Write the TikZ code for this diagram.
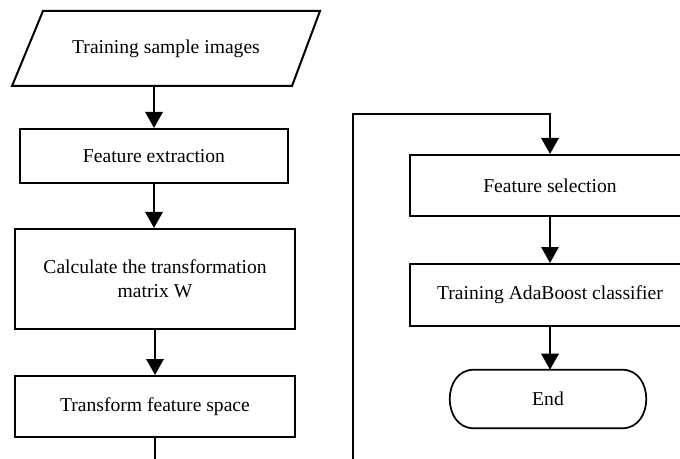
\documentclass[tikz,border=0pt]{standalone}
\usepackage{fontspec}
\setmainfont{Liberation Serif}
\usetikzlibrary{arrows.meta,calc}
\begin{document}
\begin{tikzpicture}[x=0.75pt,y=-0.75pt,
  txt/.style={align=center,font=\fontsize{14.7}{18}\selectfont,inner sep=0pt},
  box/.style={txt,draw,line width=1.5pt},
  line/.style={line width=1.5pt},
  arr/.style={line width=1.5pt,-{Triangle[length=12pt,width=13pt]}}]
\useasboundingbox (0,0) rectangle (680,459);
\clip (0,0) rectangle (680,459);
% input parallelogram
\node[txt] (in) at (166,48.5) {Training sample images};
\draw[line,line join=miter] ($(in)+(-123,-37.5)$) -- ($(in)+(154,-37.5)$) -- ($(in)+(126,37.5)$) -- ($(in)+(-154,37.5)$) -- cycle;
\coordinate (inS) at ($(in)+(-12,37.5)$);
% left column
\node[box,minimum width=268*0.75pt,minimum height=54*0.75pt] (fe) at (154,156) {Feature extraction};
\node[box,minimum width=280*0.75pt,minimum height=100*0.75pt] (calc) at (155,279) {Calculate the transformation\\matrix W};
\node[box,minimum width=280*0.75pt,minimum height=61*0.75pt] (tfs) at (155,406.5) {Transform feature space};
% right column
\node[box,minimum width=280*0.75pt,minimum height=61*0.75pt] (fs) at (550,185.5) {Feature selection};
\node[box,minimum width=280*0.75pt,minimum height=62*0.75pt] (ada) at (550,295) {Training AdaBoost classifier};
\node[txt,minimum width=196*0.75pt,minimum height=58*0.75pt] (end) at (548,399) {End};
\draw[line,line width=1.3pt] ($(end.north west)+(24,0)$) -- ($(end.north east)+(-24,0)$)
  .. controls ($(end.north east)+(8,0)$) and ($(end.south east)+(8,0)$) .. ($(end.south east)+(-24,0)$)
  -- ($(end.south west)+(24,0)$)
  .. controls ($(end.south west)+(-8,0)$) and ($(end.north west)+(-8,0)$) .. cycle;
% connectors
\draw[arr] (inS) -- (inS |- fe.north);
\draw[arr] (fe.south) -- (fe.south |- calc.north);
\draw[arr] (calc.south) -- (tfs.north);
\coordinate (lb) at (155,475);
\draw[line] (tfs.south) -- (lb);
\coordinate (rb) at (353,475);
\coordinate (corner) at (353,114);
\draw[arr,line join=miter] (rb) -- (corner) -| (fs.north);
\draw[arr] (fs.south) -- (ada.north);
\draw[arr] (ada.south) -- (ada.south |- end.north);
\end{tikzpicture}
\end{document}
